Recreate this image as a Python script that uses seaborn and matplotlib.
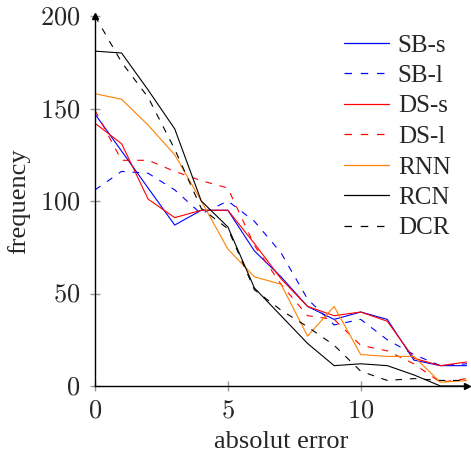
import numpy as np
import pandas as pd
import seaborn as sns
import matplotlib.pyplot as plt

errors = list(range(15))

sb_s = [147, 127, 107, 87, 95, 95, 73, 59, 43, 36, 40, 36, 14, 11, 11]
sb_l = [106, 116, 115, 106, 93, 100, 89, 72, 47, 33, 36, 25, 17, 11, 12]
ds_s = [142, 131, 101, 91, 95, 95, 77, 58, 43, 38, 40, 35, 15, 11, 13]
ds_l = [149, 122, 122, 116, 111, 107, 76, 55, 38, 36, 22, 19, 12, 2, 4]
rnn = [158, 155, 141, 125, 100, 74, 59, 55, 27, 43, 17, 16, 16, 2, 3]
rcn = [181, 180, 160, 139, 100, 86, 53, 38, 23, 11, 12, 11, 6, 0, 0]
dcr = [200, 175, 156, 128, 96, 85, 52, 41, 32, 22, 8, 3, 4, 3, 3]

names = ['SB-s', 'SB-l', 'DS-s', 'DS-l', 'RNN', 'RCN', 'DCR']
series = [sb_s, sb_l, ds_s, ds_l, rnn, rcn, dcr]
colors = ['#0000ff', '#0000ff', '#ff0000', '#ff0000', '#ff8000', 'black', 'black']
dashed = [False, True, False, True, False, False, True]

sns.set_style('white')
plt.rcParams['font.family'] = ['Liberation Serif', 'DejaVu Serif']
plt.rcParams['mathtext.fontset'] = 'cm'

fig = plt.figure(figsize=(4.71, 4.54), dpi=100)
ax = fig.add_axes([95 / 471, 68 / 454, 372 / 471, 370 / 454])

lw = 0.8
for name, vals, col, d in zip(names, series, colors, dashed):
    df = pd.DataFrame({'absolut error': errors, 'frequency': vals})
    line = sns.lineplot(data=df, x='absolut error', y='frequency', color=col,
                        linewidth=lw, label=name, ax=ax).get_lines()[-1]
    if d:
        line.set_dashes((6, 7))

ax.set_xlim(0, 14)
ax.set_ylim(0, 200)
ax.set_xticks([0, 5, 10])
ax.set_yticks([0, 50, 100, 150, 200])
ax.set_xticklabels([f'${t}$' for t in [0, 5, 10]])
ax.set_yticklabels([f'${t}$' for t in [0, 50, 100, 150, 200]])
ax.tick_params(axis='both', direction='inout', length=7, width=1, color='#999999',
               labelsize=19, left=True, bottom=True)
ax.tick_params(axis='x', pad=7)
ax.tick_params(axis='y', pad=7)

for s in ['top', 'right']:
    ax.spines[s].set_visible(False)
for s in ['left', 'bottom']:
    ax.spines[s].set_color('black')
    ax.spines[s].set_linewidth(1)
ax.plot(1, 0, '>k', ms=5, transform=ax.get_yaxis_transform(), clip_on=False)
ax.plot(0, 1, '^k', ms=5, transform=ax.get_xaxis_transform(), clip_on=False)

ax.set_xlabel('absolut error', fontsize=19, labelpad=6)
ax.set_ylabel('frequency', fontsize=19, labelpad=7)

leg = ax.legend(loc='upper left', bbox_to_anchor=(344 / 471, 1 - 34 / 454),
                bbox_transform=fig.transFigure, frameon=False, borderpad=0,
                borderaxespad=0, fontsize=18, labelspacing=0.32,
                handlelength=1.8, handletextpad=0.35)
for line, col in zip(leg.get_lines(), colors):
    line.set_linewidth(0.9)
    line.set_color(col)

fig.savefig('out.png', dpi=100)
